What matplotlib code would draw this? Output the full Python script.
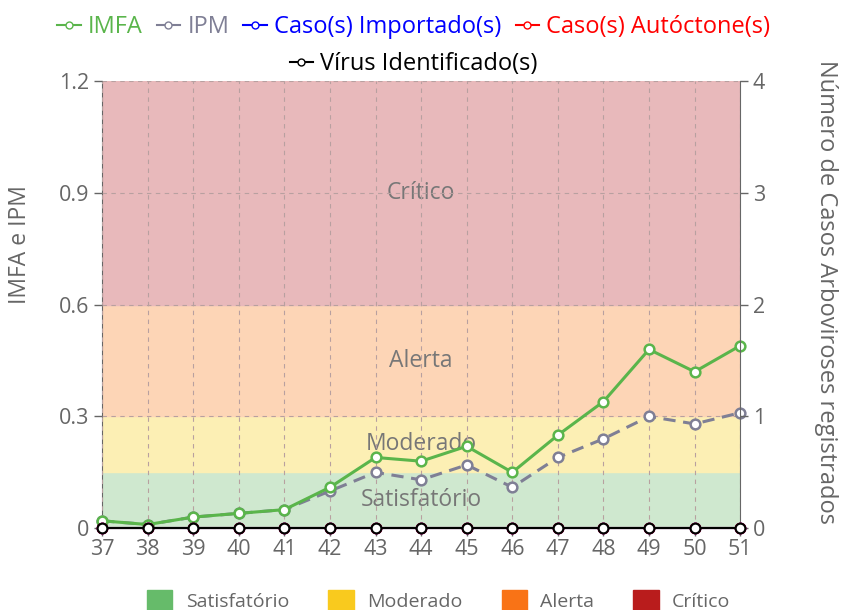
import matplotlib.pyplot as plt
from matplotlib.lines import Line2D
from matplotlib.patches import Patch

plt.rcParams['font.family'] = ['Open Sans', 'DejaVu Sans']

semanas = [37, 38, 39, 40, 41, 42, 43, 44, 45, 46, 47, 48, 49, 50, 51]
imfa = [0.02, 0.01, 0.03, 0.04, 0.05, 0.11, 0.19, 0.18, 0.22, 0.15, 0.25, 0.34, 0.48, 0.42, 0.49]
ipm = [0.02, 0.01, 0.03, 0.04, 0.05, 0.10, 0.15, 0.13, 0.17, 0.11, 0.19, 0.24, 0.30, 0.28, 0.31]
importados = [0] * 15
autoctones = [0] * 15
virus = [0] * 15

faixas = [(0, 0.15, '#cfe8cf', 'Satisfatório', 0.075),
          (0.15, 0.3, '#fcefb4', 'Moderado', 0.225),
          (0.3, 0.6, '#fdd5b6', 'Alerta', 0.45),
          (0.6, 1.2, '#e8b9bb', 'Crítico', 0.9)]
cores_legenda = ['#66bb6a', '#f9ca1e', '#f97316', '#b91c1c']

grey = '#666666'
fig = plt.figure(figsize=(8.44, 6.1), dpi=100)
ax = fig.add_axes([0.121, 0.134, 0.756, 0.733])
ax2 = ax.twinx()

for lo, hi, c, nome, ypos in faixas:
    ax.axhspan(lo, hi, color=c, zorder=0)
    ax.text(44, ypos, nome, ha='center', va='center', fontsize=16.5, color='#777777', zorder=1)

ax.set_xlim(37, 51)
ax.set_ylim(0, 1.2)
ax.set_xticks(semanas)
ax.set_yticks([0, 0.3, 0.6, 0.9, 1.2])
ax.set_yticklabels(['0', '0.3', '0.6', '0.9', '1.2'])
ax.grid(True, linestyle=(0, (4, 4)), color='#b8a0a0', linewidth=0.8, zorder=1)
ax.set_axisbelow(False)

ax.plot(semanas, ipm, color='#7f7f95', linestyle=(0, (4, 2.5)), linewidth=2.2, marker='o',
        markersize=7, markerfacecolor='white', markeredgecolor='#7f7f95', markeredgewidth=1.8,
        zorder=4, clip_on=False)
ax.plot(semanas, imfa, color='#5ab54b', linewidth=2.2, marker='o',
        markersize=7, markerfacecolor='white', markeredgecolor='#5ab54b', markeredgewidth=1.8,
        zorder=5, clip_on=False)

ax2.set_ylim(0, 4)
ax2.set_yticks([0, 1, 2, 3, 4])
for serie, c in [(importados, 'blue'), (autoctones, 'red'), (virus, 'black')]:
    ax2.plot(semanas, serie, color=c, linewidth=1.5, marker='o', markersize=7,
             markerfacecolor='white', markeredgecolor=c, markeredgewidth=1.5, clip_on=False, zorder=6)

for a in (ax, ax2):
    for s in a.spines.values():
        s.set_visible(False)
    a.tick_params(colors=grey, labelsize=15.5, length=6, width=1)
ax.spines['left'].set_visible(True)
ax.spines['left'].set_color(grey)
ax2.spines['right'].set_visible(True)
ax2.spines['right'].set_color(grey)
ax.spines['bottom'].set_visible(True)
ax.spines['bottom'].set_color(grey)
ax.tick_params(axis='x', pad=2)
ax.tick_params(axis='y', pad=3)
ax2.tick_params(axis='y', pad=3)

# axis titles placed in figure coords
fig.text(20 / 844, 1 - 245 / 610, 'IMFA e IPM', rotation=90, ha='center', va='center',
         fontsize=16.5, color=grey)
fig.text(826 / 844, 1 - 292 / 610, 'Número de Casos Arboviroses registrados', rotation=270,
         ha='center', va='center', fontsize=17, color=grey)

def h(c, ls='-'):
    return Line2D([], [], color=c, linestyle=ls, marker='o', markersize=5,
                  markerfacecolor='white', markeredgecolor=c, linewidth=1.5)

nomes1 = ['IMFA', 'IPM', 'Caso(s) Importado(s)', 'Caso(s) Autóctone(s)']
cores1 = ['#5ab54b', '#7f7f95', 'blue', 'red']
leg1 = fig.legend([h(c) for c in cores1], nomes1, loc='center', bbox_to_anchor=(0.49, 0.955),
                  ncol=4, frameon=False, fontsize=17, handlelength=1.0, handletextpad=0.3,
                  columnspacing=0.6)
for t, c in zip(leg1.get_texts(), cores1):
    t.set_color(c)
leg2 = fig.legend([h('black')], ['Vírus Identificado(s)'], loc='center',
                  bbox_to_anchor=(0.49, 0.895), frameon=False, fontsize=17,
                  handlelength=1.0, handletextpad=0.3)

nomes_faixa = [f[3] for f in faixas]
leg3 = fig.legend([Patch(color=c) for c in cores_legenda], nomes_faixa, loc='center',
                  bbox_to_anchor=(0.52, 0.016), ncol=4, frameon=False, fontsize=14,
                  handlelength=1.3, handleheight=1.3, handletextpad=0.7, columnspacing=2.0)
for t in leg3.get_texts():
    t.set_color(grey)

fig.savefig('out.png', dpi=100)
